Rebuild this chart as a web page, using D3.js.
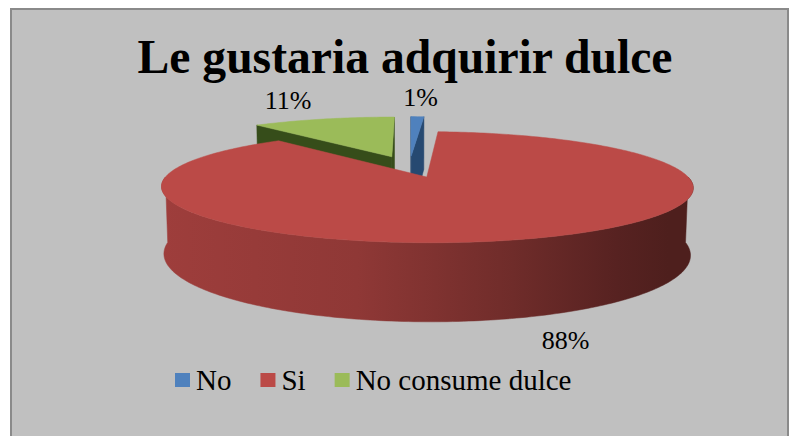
<!DOCTYPE html>
<html>
<head>
<meta charset="utf-8">
<script src="https://cdn.jsdelivr.net/npm/d3@7"></script>
<style>
  html, body { margin: 0; padding: 0; background: #ffffff; }
  svg { display: block; }
  text { font-family: "Liberation Serif", "Times New Roman", serif; }
</style>
</head>
<body>
<div id="chart"></div>
<script>
// ---- data ----
const title = "Le gustaria adquirir dulce";
const categories = ["No", "Si", "No consume dulce"];
const values = [1, 88, 11];
const valueLabels = ["1%", "88%", "11%"];
const topColors = ["#4f81bd", "#bb4a47", "#9bbb59"];
const sideColors = ["#2f5a8c", "#8f3836", "#435f20"];

// ---- layout ----
const W = 790, H = 436;
const svg = d3.select("#chart").append("svg").attr("width", W).attr("height", H);

svg.append("rect").attr("x", 0).attr("y", 0).attr("width", W).attr("height", H).attr("fill", "#ffffff");
svg.append("rect").attr("x", 11).attr("y", 9).attr("width", 777).attr("height", 440)
  .attr("fill", "#c0c0c0").attr("stroke", "#8a8a8a").attr("stroke-width", 2);

svg.append("text")
  .attr("x", 405).attr("y", 73)
  .attr("text-anchor", "middle")
  .attr("font-weight", "bold")
  .attr("font-size", 48)
  .attr("textLength", 535)
  .attr("lengthAdjust", "spacingAndGlyphs")
  .attr("fill", "#000")
  .text(title);

// ---- 3D projection ----
const A = 252;             // pixels per radius
const sinP = 0.198, cosP = Math.sqrt(1 - sinP * sinP); // elevation
const persp = 0.18;        // perspective strength
const cx = 409.5, cy = 166.5;
const depth = 0.258;       // thickness (in radii)
const explode = 0.214;

function proj(u, v, h) {
  const w = 1 - persp * (v * cosP + h * sinP);
  return [cx + A * u / w, cy + A * (v * sinP - h * cosP) / w];
}
const camV = cosP / persp; // camera horizontal distance (in radii)

const pie = d3.pie().sort(null).startAngle(0).endAngle(2 * Math.PI);
const arcs = pie(values);

const defs = svg.append("defs");
const leftX = proj(-1, 0.2, -depth)[0], rightX = proj(1, 0.2, -depth)[0];
arcs.forEach((a, i) => {
  const g = defs.append("linearGradient").attr("id", "wall" + i)
    .attr("gradientUnits", "userSpaceOnUse")
    .attr("x1", leftX).attr("x2", rightX).attr("y1", 0).attr("y2", 0);
  const base = d3.color(sideColors[i]);
  g.append("stop").attr("offset", 0).attr("stop-color", d3.color(base).brighter(0.3));
  g.append("stop").attr("offset", 0.4).attr("stop-color", base);
  g.append("stop").attr("offset", 0.7).attr("stop-color", d3.color(base).darker(0.7));
  g.append("stop").attr("offset", 0.9).attr("stop-color", d3.color(base).darker(1.4));
  g.append("stop").attr("offset", 1).attr("stop-color", d3.color(base).darker(1.7));
});

const slices = arcs.map((a, i) => {
  const mid = (a.startAngle + a.endAngle) / 2;
  return { a, i, ox: explode * Math.sin(mid), ov: -explode * Math.cos(mid), mid };
});
slices.sort((p, q) => p.ov - q.ov);

const line = d3.line();
const pieG = svg.append("g");
function ptOn(s, th, r, h) {
  return proj(s.ox + r * Math.sin(th), s.ov - r * Math.cos(th), h);
}
function arcPts(s, t0, t1, h) {
  const n = Math.max(2, Math.ceil(Math.abs(t1 - t0) / (Math.PI / 180)));
  const pts = [];
  for (let k = 0; k <= n; k++) pts.push(ptOn(s, t0 + (t1 - t0) * k / n, 1, h));
  return pts;
}

slices.forEach(s => {
  const { a, i } = s;
  const a0 = a.startAngle, a1 = a.endAngle;
  // radial faces
  [[a0, -1], [a1, 1]].forEach(([th, sg]) => {
    const nu = sg * Math.cos(th), nv = sg * Math.sin(th);
    const dot = nu * (-s.ox) + nv * (camV - s.ov);
    if (dot > 0) {
      const pts = [ptOn(s, 0, 0, 0), ptOn(s, th, 1, 0), ptOn(s, th, 1, -depth), ptOn(s, 0, 0, -depth)];
      pieG.append("path").attr("d", line(pts) + "Z")
        .attr("fill", d3.color(sideColors[i]).darker(0.6))
        .attr("stroke", d3.color(sideColors[i]).darker(0.6)).attr("stroke-width", 0.5);
    }
  });
  // outer wall (front half)
  const w0 = Math.max(a0, Math.PI / 2), w1 = Math.min(a1, 3 * Math.PI / 2);
  if (w1 > w0) {
    const top = arcPts(s, w0, w1, 0);
    const bot = arcPts(s, w1, w0, -depth);
    pieG.append("path").attr("d", line(top.concat(bot)) + "Z")
      .attr("fill", "url(#wall" + i + ")").attr("stroke", "url(#wall" + i + ")").attr("stroke-width", 0.5);
  }
  // top face
  const topPts = [ptOn(s, 0, 0, 0)].concat(arcPts(s, a0, a1, 0));
  pieG.append("path").attr("d", line(topPts) + "Z")
    .attr("fill", topColors[i]).attr("stroke", topColors[i]).attr("stroke-width", 0.5);
});

// ---- value labels ----
slices.forEach(s => {
  const back = Math.cos(s.mid) > 0;
  const p = back ? ptOn(s, s.mid, 1.65, 0) : ptOn(s, s.mid, 1.3, -depth);
  svg.append("text")
    .attr("x", p[0]).attr("y", p[1])
    .attr("dy", back ? "0.35em" : "0.12em")
    .attr("text-anchor", "middle")
    .attr("font-size", 26)
    .attr("fill", "#000")
    .text(valueLabels[s.i]);
});

// ---- legend ----
const leg = svg.append("g");
let lx = 175;
categories.forEach((c, i) => {
  leg.append("rect").attr("x", lx).attr("y", 373).attr("width", 15).attr("height", 14).attr("fill", topColors[i]);
  const t = leg.append("text").attr("x", lx + 21).attr("y", 390)
    .attr("font-size", 29).attr("fill", "#000").text(c);
  lx += 21 + t.node().getComputedTextLength() + 29;
});
</script>
</body>
</html>
